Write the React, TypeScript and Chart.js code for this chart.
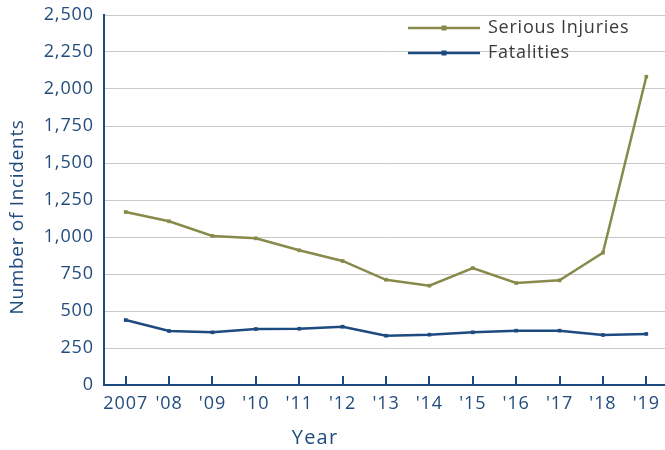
import React, { useEffect, useRef } from 'react';
import { Chart, registerables } from 'chart.js';

Chart.register(...registerables);

const years = ['2007', "'08", "'09", "'10", "'11", "'12", "'13", "'14", "'15", "'16", "'17", "'18", "'19"];
const seriousInjuries = [1169, 1106, 1007, 991, 910, 838, 711, 671, 790, 689, 707, 894, 2083];
const fatalities = [439, 365, 356, 378, 380, 394, 333, 340, 356, 367, 367, 338, 345];
const seriesNames = ['Serious Injuries', 'Fatalities'];
const yMax = 2500;
const yStep = 250;
const xTitle = 'Year';
const yTitle = 'Number of Incidents';

const OLIVE = '#878a4b';
const NAVY = '#1d4a7f';
const AXIS_TEXT = '#234c7e';
const FONT = "'Open Sans', sans-serif";
const SPACING = '0.9px';

const decorPlugin = {
  id: 'decor',
  beforeUpdate(chart: any) {
    chart.ctx.letterSpacing = SPACING;
  },
  beforeDraw(chart: any) {
    chart.ctx.letterSpacing = SPACING;
  },
  beforeDatasetsDraw(chart: any) {
    const { ctx, chartArea, scales } = chart;
    const xs = scales.x;
    ctx.save();
    ctx.strokeStyle = NAVY;
    ctx.lineWidth = 2;
    xs.ticks.forEach((_t: any, i: number) => {
      const px = Math.round(xs.getPixelForTick(i));
      ctx.beginPath();
      ctx.moveTo(px, chartArea.bottom);
      ctx.lineTo(px, chartArea.bottom - 9);
      ctx.stroke();
    });
    ctx.restore();
  },
  afterDraw(chart: any) {
    const { ctx, chartArea } = chart;
    ctx.save();
    // axis titles
    ctx.fillStyle = AXIS_TEXT;
    ctx.textAlign = 'center';
    ctx.textBaseline = 'middle';
    ctx.letterSpacing = '1.2px';
    ctx.font = `20px ${FONT}`;
    ctx.fillText(xTitle, 315, 438);
    ctx.letterSpacing = '0.7px';
    ctx.font = `19px ${FONT}`;
    ctx.translate(18, 217);
    ctx.rotate(-Math.PI / 2);
    ctx.fillText(yTitle, 0, 0);
    ctx.restore();

    // legend in the upper right of the plot
    ctx.save();
    ctx.letterSpacing = '0.75px';
    const lx = chartArea.left + 304;
    const rows = [chartArea.top + 13, chartArea.top + 38];
    chart.data.datasets.forEach((ds: any, i: number) => {
      const y = rows[i];
      ctx.strokeStyle = ds.borderColor;
      ctx.lineWidth = 2.5;
      ctx.beginPath();
      ctx.moveTo(lx, y);
      ctx.lineTo(lx + 72, y);
      ctx.stroke();
      ctx.fillStyle = ds.borderColor;
      ctx.fillRect(lx + 36 - 2.5, y - 2.5, 5, 5);
      ctx.fillStyle = '#3a3a3a';
      ctx.font = `18px ${FONT}`;
      ctx.textAlign = 'left';
      ctx.textBaseline = 'middle';
      ctx.fillText(ds.label, lx + 80, y);
    });
    ctx.restore();
  },
};

export default function App() {
  const canvasRef = useRef<HTMLCanvasElement | null>(null);

  useEffect(() => {
    const canvas = canvasRef.current;
    if (!canvas) return;
    const chart = new Chart(canvas, {
      type: 'line',
      data: {
        labels: years,
        datasets: [
          {
            label: seriesNames[0],
            data: seriousInjuries,
            borderColor: OLIVE,
            backgroundColor: OLIVE,
            borderWidth: 2.5,
            pointStyle: 'rect',
            pointRadius: 2.6,
            pointBorderWidth: 0,
            tension: 0,
          },
          {
            label: seriesNames[1],
            data: fatalities,
            borderColor: NAVY,
            backgroundColor: NAVY,
            borderWidth: 2.5,
            pointStyle: 'rect',
            pointRadius: 2.6,
            pointBorderWidth: 0,
            tension: 0,
          },
        ],
      },
      options: {
        responsive: false,
        animation: false,
        layout: { autoPadding: false, padding: { top: 15, left: 0, right: 0, bottom: 0 } },
        plugins: {
          legend: { display: false },
          tooltip: { enabled: false },
        },
        scales: {
          x: {
            offset: true,
            grid: { display: false, drawTicks: false },
            border: { display: true, color: NAVY, width: 2 },
            ticks: {
              color: AXIS_TEXT,
              font: { family: FONT, size: 18 },
              padding: 8,
              maxRotation: 0,
              autoSkip: false,
            },
            afterFit(scale: any) {
              scale.height = 65;
              scale.paddingLeft = 0;
              scale.paddingRight = 0;
            },
          },
          y: {
            min: 0,
            max: yMax,
            grid: { color: '#c8c8c8', lineWidth: 1, drawTicks: false },
            border: { display: true, color: NAVY, width: 2 },
            ticks: {
              stepSize: yStep,
              color: AXIS_TEXT,
              font: { family: FONT, size: 18 },
              padding: 10,
              callback: (v: any) => Number(v).toLocaleString('en-US'),
            },
            afterFit(scale: any) {
              scale.width = 104;
              scale.paddingTop = 0;
              scale.paddingBottom = 0;
            },
          },
        },
      },
      plugins: [decorPlugin],
    });
    return () => chart.destroy();
  }, []);

  return (
    <div style={{ position: 'fixed', left: 0, top: 0, width: 668, height: 450, background: '#fff' }}>
      <canvas ref={canvasRef} width={668} height={450} style={{ display: 'block' }} />
    </div>
  );
}
